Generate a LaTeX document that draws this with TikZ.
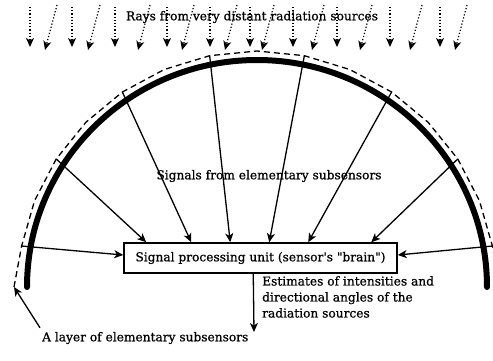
\documentclass[tikz,border=0pt]{standalone}
\usepackage{fontspec}
\setmainfont{DejaVu Serif}[FakeBold=0.8]
\usetikzlibrary{arrows.meta,calc,positioning}

\begin{document}
\begin{tikzpicture}[x=1pt,y=1pt,
  font=\fontsize{12.2}{16}\selectfont,
  sensorarc/.style={line width=6pt,line cap=round},
  layerline/.style={line width=1.3pt,dash pattern=on 6pt off 4pt},
  sigarrow/.style={line width=1.3pt,-{Stealth[length=9pt,width=8pt,inset=2.5pt]}},
  rayarrow/.style={line width=1.2pt,dotted,-{Stealth[length=9pt,width=8pt,inset=2.5pt]}},
  unitbox/.style={draw,line width=1.5pt,minimum width=273pt,minimum height=30pt,inner sep=0pt},
  lbl/.style={inner sep=0pt,align=left},
]
\clip (0,0) rectangle (493,360);
\coordinate (ctr) at (257,73);
\coordinate (layerend) at (14,73);
\coordinate (outtip) at (254,28);

% rays from far away
\foreach \v/\s in {30/45,72/88,115/138,167/182,210/225,250/262,293/312,337/360,390/410,440/455}{
  \draw[rayarrow] (\v,353) -- (\v,313);
  \draw[rayarrow] (\s+12,355) -- (\s,310);
}
\node (rays) at (252,343) {Rays from very distant radiation sources};

% the sensor shell and its subsensor layer
\draw[sensorarc] ($(ctr)+(230,0)$) arc[start angle=0,end angle=180,x radius=230,y radius=227];
\draw[layerline] (layerend) \foreach \j in {0,...,14}{ -- ($(ctr)+({170-\j*80/7}:239pt and 236pt)$) } -- (500,73);
\foreach \k in {0,...,7}
  \coordinate (s\k) at ($(ctr)+({170-\k*160/7}:239pt and 236pt)$);

\node[unitbox] (unit) at (260.5,102) {Signal processing unit (sensor\textquotesingle s \textquotedbl brain\textquotedbl)};
\node (signals) at (269,184) {Signals from elementary subsensors};

\draw[sigarrow] (s0) -- ([yshift=3pt]unit.west);
\foreach \k/\tx in {1/23,2/68,3/107,4/146,5/185,6/248}
  \draw[sigarrow] (s\k) -- ([xshift=\tx pt]unit.north west);
\draw[sigarrow] (s7) -- ([yshift=3pt]unit.east);

\draw[sigarrow] ([xshift=130pt]unit.south west) -- (outtip);
\node[lbl,anchor=north west] (est) at (262,84) {Estimates of intensities and\\directional angles of the\\radiation sources};

\node[lbl,anchor=west] (layer) at (42,22) {A layer of elementary subsensors};
\draw[sigarrow] ([shift={(-2,4)}]layer.north west) -- (layerend);
\end{tikzpicture}
\end{document}
